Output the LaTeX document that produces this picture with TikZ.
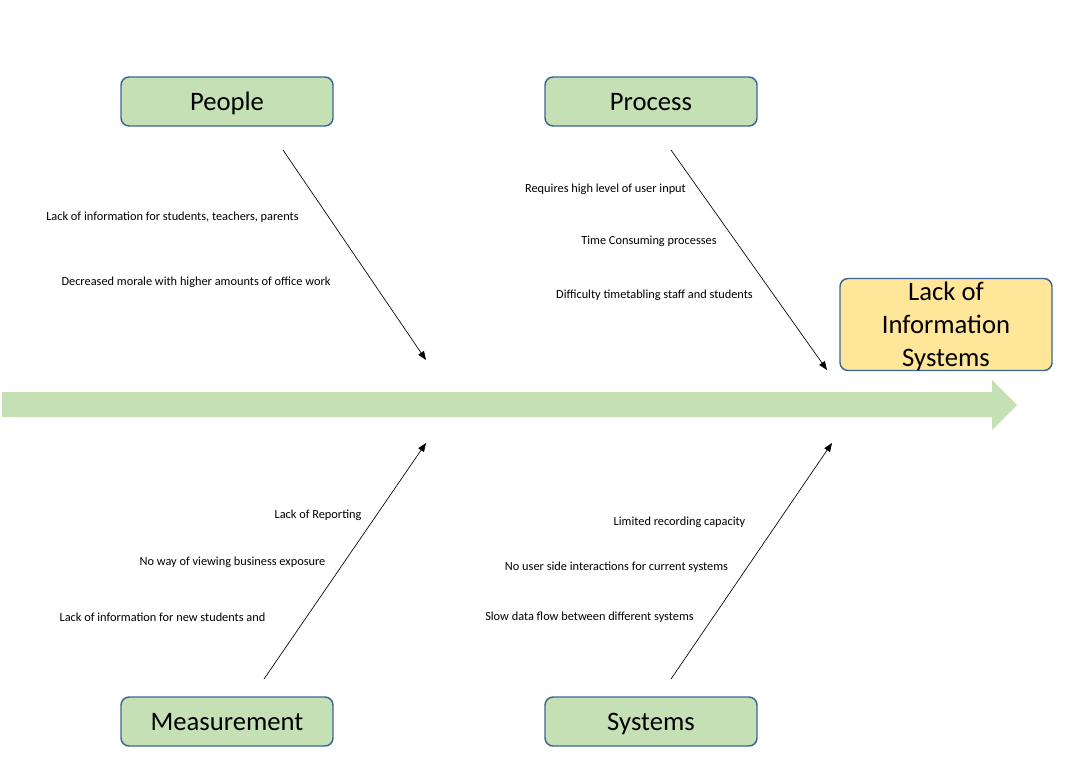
\documentclass[tikz,border=0pt]{standalone}
\usepackage{fontspec}
\setmainfont{Carlito}
\usetikzlibrary{arrows.meta}
\definecolor{boxgreen}{HTML}{C5E0B4}
\definecolor{boxyellow}{HTML}{FFE699}
\definecolor{boxline}{HTML}{3A6596}
\tikzset{
	cat/.style={draw=boxline,line width=1.1pt,fill=boxgreen,rounded corners=6pt,
		minimum width=159pt,minimum height=36.75pt,inner sep=0pt,text depth=0pt,
		font=\fontsize{20}{24}\selectfont},
	cause/.style={inner sep=0pt,font=\fontsize{9.25}{11}\selectfont},
}
\begin{document}
\begin{tikzpicture}[>={Triangle[length=6.5pt,width=5pt]},x=0.75pt,y=-0.75pt]
	\useasboundingbox (0,0) rectangle (1078,782);
	% spine
	\fill[boxgreen] (2,392)--(992,392)--(992,380)--(1017,405)%
	--(992,430)--(992,417)--(2,417)--cycle;
	% effect
	\node[cat,fill=boxyellow,minimum height=69pt,align=center,
		font=\fontsize{20}{24.75}\selectfont] (effect) at (946,324.5)
		{Lack of\\Information\\Systems};
	% categories
	\node[cat] (people) at (227,101.5) {People};
	\node[cat] (process) at (651,101.5) {Process};
	\node[cat] (measure) at (227,721.5) {Measurement};
	\node[cat] (systems) at (651,721.5) {Systems};
	% bones
	\coordinate (p1) at (283,150); \coordinate (p2) at (426,360);
	\coordinate (r1) at (671,150); \coordinate (r2) at (827,370);
	\coordinate (m1) at (264,679); \coordinate (m2) at (426,443);
	\coordinate (s1) at (671,679); \coordinate (s2) at (832,443);
	\draw[->,line width=0.5pt] (p1)--(p2);
	\draw[->,line width=0.5pt] (r1)--(r2);
	\draw[->,line width=0.5pt] (m1)--(m2);
	\draw[->,line width=0.5pt] (s1)--(s2);
	% causes
	\node[cause] (pa) at (172.5,217) {Lack of information for students, teachers, parents};
	\node[cause] (pb) at (196,282) {Decreased morale with higher amounts of office work};
	\node[cause] (ra) at (605.5,189) {Requires high level of user input};
	\node[cause] (rb) at (649,241) {Time Consuming processes};
	\node[cause] (rc) at (654.5,295) {Difficulty timetabling staff and students};
	\node[cause] (ma) at (318,515) {Lack of Reporting};
	\node[cause] (mb) at (232.5,562) {No way of viewing business exposure};
	\node[cause] (mc) at (162.5,617) {Lack of information for new students and};
	\node[cause] (sa) at (679.5,522) {Limited recording capacity};
	\node[cause] (sb) at (616.5,567) {No user side interactions for current systems};
	\node[cause] (sc) at (589.5,617) {Slow data flow between different systems};
\end{tikzpicture}
\end{document}
